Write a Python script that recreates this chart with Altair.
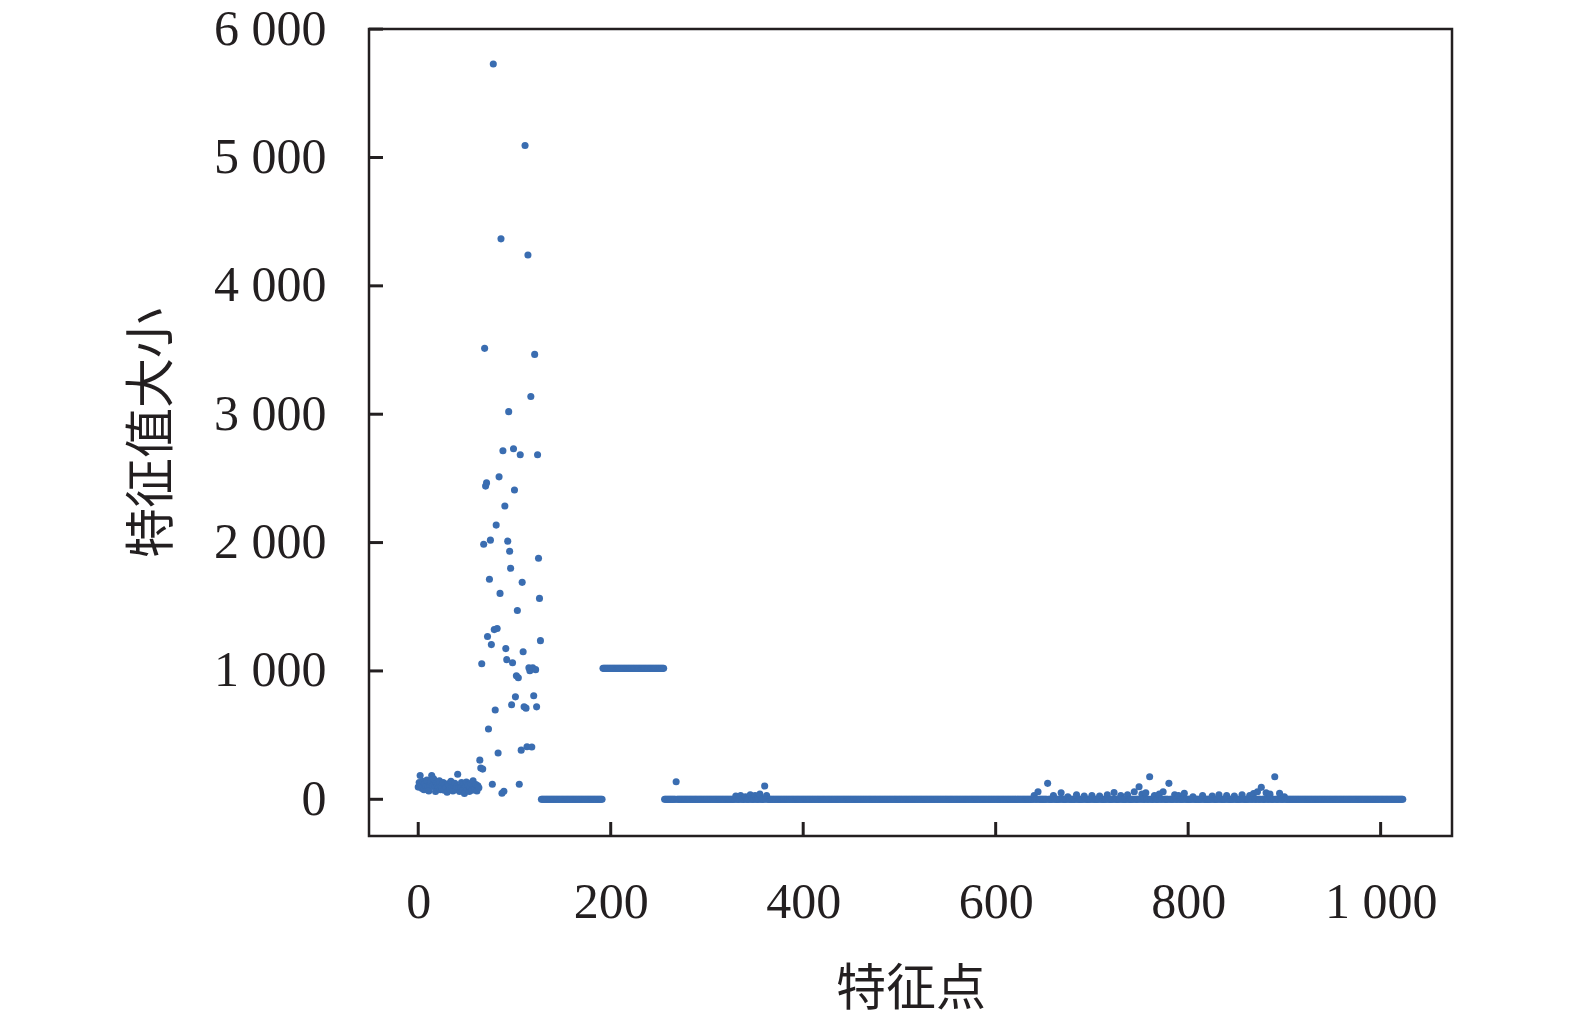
import altair as alt
import pandas as pd

# ---- data ----
# feature points 0..63 : dense low band
cluster_y = [95, 130, 185, 110, 85, 140, 75, 120, 100, 150, 90, 65, 115, 135,
             185, 105, 160, 95, 60, 125, 110, 90, 145, 75, 100, 85, 130, 70,
             115, 95, 55, 120, 105, 80, 140, 90, 65, 110, 125, 75, 100, 195,
             85, 60, 95, 130, 70, 115, 45, 100, 135, 80, 110, 60, 90, 125,
             70, 145, 100, 85, 115, 65, 105, 90]
# feature points 64..127 : scattered high values
scatter_y = [305, 243, 1056, 235, 1987, 3513, 2440, 2465, 1268, 548, 1714, 2019,
             1205, 117, 5728, 1322, 696, 2136, 1330, 360, 2512, 1604, 4366, 47,
             2715, 63, 2285, 1174, 1088, 2011, 3020, 1933, 1800, 736, 1064, 2731,
             2410, 798, 962, 1471, 947, 117, 2684, 383, 1690, 1150, 720, 5094,
             710, 410, 4241, 1025, 1002, 3138, 407, 1025, 806, 3466, 1010, 720,
             2684, 1878, 1565, 1236]
# flat runs: (first point, last point, value)
flat_runs = [(128, 191, 0), (192, 255, 1020), (256, 1023, 0)]
# small bumps above the zero line
bump_x = [268, 330, 335, 340, 345, 350, 355, 360, 362,
          640, 644, 654, 660, 668, 675, 684, 692, 700, 708, 716, 723, 730,
          737, 744, 749, 752, 756, 760, 765, 770, 774, 780, 786, 790, 796,
          805, 815, 825, 832, 840, 848, 856, 864, 868, 872, 876, 881, 885,
          890, 895, 900]
bump_y = [137, 25, 30, 20, 35, 30, 40, 103, 30,
          30, 59, 124, 30, 51, 20, 35, 25, 30, 25, 35, 52, 30,
          35, 59, 98, 40, 51, 176, 30, 40, 59, 124, 35, 30, 47,
          20, 30, 25, 35, 30, 25, 35, 30, 45, 59, 93, 51, 40,
          176, 47, 20]

x_ticks = [0, 200, 400, 600, 800, 1000]
y_ticks = [0, 1000, 2000, 3000, 4000, 5000, 6000]

# ---- build table ----
vals = {}
for i, v in enumerate(cluster_y):
    vals[i] = v
for i, v in enumerate(scatter_y):
    vals[64 + i] = v
for a, b, v in flat_runs:
    for i in range(a, b + 1):
        vals[i] = v
for i, v in zip(bump_x, bump_y):
    vals[i] = v
df = pd.DataFrame({"x": list(vals.keys()), "y": list(vals.values())})

W, H = 1083, 807
INK = "#231f20"
BLUE = "#3a6db1"
SERIF = "Liberation Serif"
CJK = "Noto Sans CJK SC"

xscale = alt.Scale(domain=[-51.15, 1074.15], nice=False, zero=False)
yscale = alt.Scale(domain=[-286, 6001], nice=False, zero=False)

points = alt.Chart(df).mark_circle(size=50, color=BLUE, opacity=1).encode(
    x=alt.X("x:Q", scale=xscale, title="特征点", axis=alt.Axis(
        values=x_ticks, format=",d", grid=False, ticks=False,
        domain=False, labelFont=SERIF, labelFontSize=50, labelColor=INK,
        labelPadding=41, labelFlush=False,
        titleFont=CJK, titleFontSize=50, titleFontWeight="normal",
        titleColor=INK, titleX=W / 2, titleY=168, titleBaseline="alphabetic")),
    y=alt.Y("y:Q", scale=yscale, title="特征值大小", axis=alt.Axis(
        values=y_ticks, format=",d", grid=False, ticks=False,
        domain=False, labelFont=SERIF, labelFontSize=50, labelColor=INK,
        labelPadding=43,
        titleFont=CJK, titleFontSize=50, titleFontWeight="normal",
        titleColor=INK, titleAngle=270, titleX=-202, titleY=H / 2,
        titleBaseline="alphabetic")),
)

xt = alt.Chart(pd.DataFrame({"x": x_ticks})).mark_rule(
    color=INK, strokeWidth=3).encode(
    x=alt.X("x:Q", scale=xscale),
    y=alt.value(H), y2=alt.value(H - 14))

yt = alt.Chart(pd.DataFrame({"y": y_ticks})).mark_rule(
    color=INK, strokeWidth=3).encode(
    y=alt.Y("y:Q", scale=yscale),
    x=alt.value(0), x2=alt.value(14))

chart = alt.layer(points, xt, yt).properties(
    width=W, height=H,
    autosize="none",
    padding={"left": 361, "top": 21, "right": 115, "bottom": 175},
    background="white",
).configure(
    locale={"number": {"decimal": ".", "thousands": " ",
                       "grouping": [3], "currency": ["", ""]}}
).configure_view(stroke=INK, strokeWidth=2.5)

chart.save("out.html", embed_options={"renderer": "svg", "actions": False})
